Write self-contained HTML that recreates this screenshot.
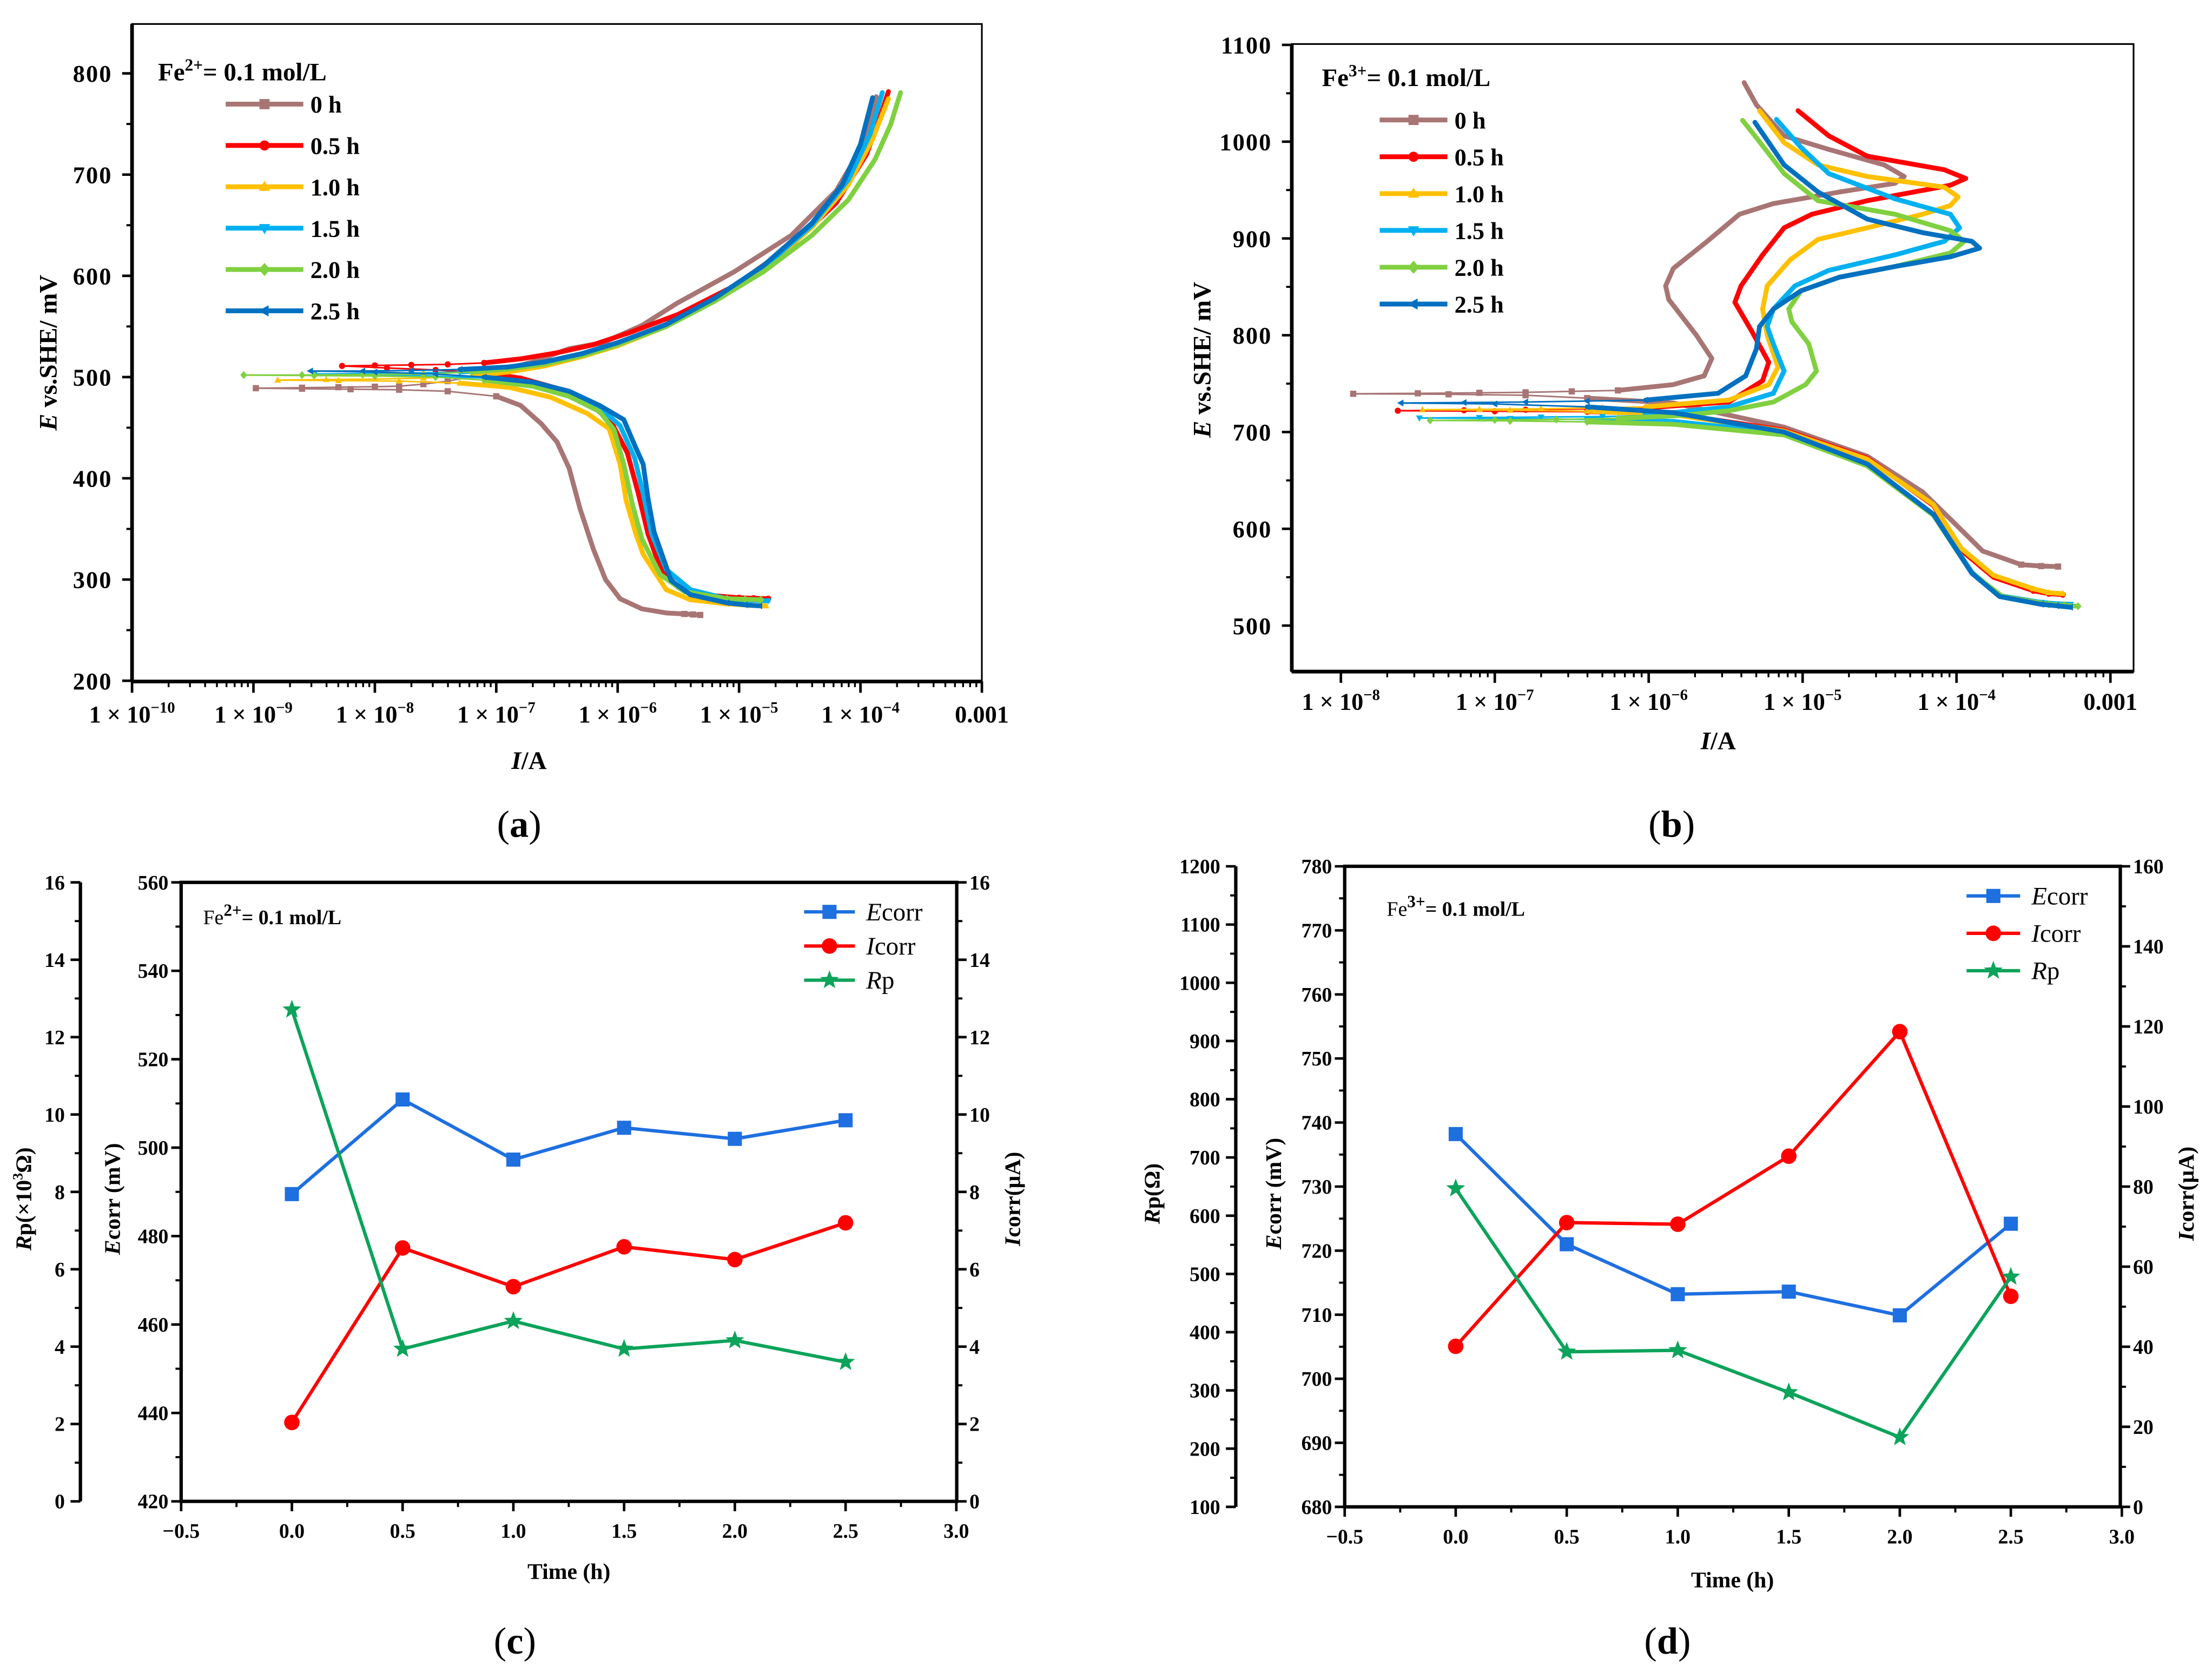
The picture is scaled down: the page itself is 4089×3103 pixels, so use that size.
<!DOCTYPE html>
<html><head><meta charset="utf-8"><style>
html,body{margin:0;padding:0;background:#fff;}
svg{display:block;}
text{font-family:"Liberation Serif",serif;fill:#000;}
</style></head><body>
<svg id="fig" xmlns="http://www.w3.org/2000/svg" width="4089" height="3103" viewBox="0 0 1568 1190" preserveAspectRatio="none" font-family="Liberation Serif, serif">
<rect x="0" y="0" width="1568" height="1190" fill="#fff"/>
</svg>
<script>
// ---------- Panel (a) data: [log10(I/A), E mV] ----------
const aLabels = ["0 h","0.5 h","1.0 h","1.5 h","2.0 h","2.5 h"];
const aAnod0 = [[-8.98,489],[-8.6,489.5],[-8.3,490],[-8.0,490.5],[-7.8,491],[-7.6,493],[-7.4,496],[-7.0,505],[-6.7,515],[-6.4,528],[-6.12,534],[-5.8,551],[-5.51,573],[-5.04,604],[-4.57,640],[-4.2,684],[-3.96,733],[-3.87,777]];
const aCath0 = [[-8.98,489],[-8.6,488.5],[-8.2,488],[-7.8,487.5],[-7.4,486],[-7.0,481],[-6.8,472],[-6.63,454],[-6.5,436],[-6.4,410],[-6.31,370],[-6.2,330],[-6.1,300],[-5.98,281],[-5.8,271],[-5.6,267],[-5.45,266],[-5.38,265.5],[-5.32,265]];
const aAnod1 = [[-8.27,511],[-8.0,511.5],[-7.7,512],[-7.4,512.5],[-7.1,514],[-6.8,518],[-6.5,524],[-6.2,532],[-5.9,544],[-5.5,562],[-5.04,590],[-4.57,630],[-4.2,672],[-3.95,720],[-3.83,760],[-3.77,782]];
const aCath1 = [[-8.27,511],[-7.9,509],[-7.5,507],[-7.1,504],[-6.8,499],[-6.5,489],[-6.25,476],[-6.05,455],[-5.92,425],[-5.83,385],[-5.75,345],[-5.65,312],[-5.5,292],[-5.3,285],[-5.0,282],[-4.88,281.5],[-4.76,281]];
const aAnod2 = [[-8.8,497],[-8.4,497.5],[-8.0,498],[-7.6,499],[-7.2,501],[-6.9,505],[-6.6,511],[-6.3,520],[-6.0,531],[-5.6,550],[-5.2,576],[-4.8,607],[-4.4,648],[-4.1,690],[-3.9,735],[-3.77,775]];
const aCath2 = [[-8.8,497],[-8.3,496.5],[-7.8,496],[-7.3,494],[-6.9,490],[-6.55,480],[-6.25,464],[-6.07,449],[-5.98,414],[-5.93,378],[-5.85,345],[-5.79,325],[-5.6,290],[-5.4,280],[-5.1,276],[-4.9,274.5],[-4.78,274]];
const aAnod3 = [[-8.5,503],[-8.1,503.5],[-7.7,504],[-7.3,505],[-6.9,508],[-6.6,513],[-6.3,521],[-6.0,532],[-5.6,551],[-5.2,577],[-4.8,608],[-4.4,650],[-4.1,695],[-3.92,740],[-3.82,781]];
const aCath3 = [[-8.5,503],[-8.0,502.5],[-7.5,501],[-7.1,499],[-6.7,494],[-6.4,484],[-6.15,470],[-5.98,452],[-5.86,420],[-5.79,385],[-5.72,345],[-5.6,310],[-5.4,290],[-5.1,281],[-4.9,279.5],[-4.76,279]];
const aAnod4 = [[-9.08,502],[-8.6,502],[-8.1,502.5],[-7.6,503],[-7.2,505],[-6.9,508],[-6.6,513],[-6.3,521],[-6.0,532],[-5.6,550],[-5.2,575],[-4.8,604],[-4.4,640],[-4.1,675],[-3.88,715],[-3.75,750],[-3.67,781]];
const aCath4 = [[-9.08,502],[-8.5,501.5],[-8.0,501],[-7.5,500],[-7.1,497],[-6.7,491],[-6.4,481],[-6.15,466],[-6.03,448],[-5.95,414],[-5.88,375],[-5.8,340],[-5.65,305],[-5.45,288],[-5.1,281],[-4.95,280.5],[-4.82,280]];
const aAnod5 = [[-8.53,506],[-8.1,506],[-7.7,506.5],[-7.3,507.5],[-6.9,510],[-6.6,515],[-6.3,523],[-6.0,534],[-5.6,552],[-5.2,578],[-4.8,610],[-4.4,652],[-4.15,690],[-4.0,730],[-3.9,776]];
const aCath5 = [[-8.53,506],[-8.0,505],[-7.5,503],[-7.1,500],[-6.7,495],[-6.4,486],[-6.15,472],[-5.95,458],[-5.85,430],[-5.79,414],[-5.75,380],[-5.7,347],[-5.56,299],[-5.4,285],[-5.1,277],[-4.95,275],[-4.83,274]];
const aYTicks = [200,300,400,500,600,700,800];
const aXTicks = [-10,-9,-8,-7,-6,-5,-4,-3];

// ---------- Panel (b) data ----------
const bAnod0 = [[-7.92,739.5],[-7.5,740],[-7.1,740.5],[-6.8,741],[-6.5,742],[-6.2,743],[-5.84,749],[-5.64,758],[-5.59,776],[-5.69,800],[-5.87,837],[-5.89,851],[-5.84,869],[-5.62,897],[-5.41,925],[-5.19,936],[-4.76,948],[-4.4,957],[-4.34,964],[-4.47,976],[-4.83,992],[-5.12,1006],[-5.3,1038],[-5.38,1061]];
const bCath0 = [[-7.92,739.5],[-7.3,739],[-6.8,738],[-6.4,735],[-5.84,730],[-5.12,705],[-4.58,675],[-4.22,638],[-4.04,610],[-3.83,577],[-3.58,563],[-3.45,561.5],[-3.34,561]];
const bAnod1 = [[-7.63,722],[-7.2,722.5],[-6.8,723],[-6.4,724],[-6.02,725],[-5.48,731],[-5.26,753],[-5.22,772],[-5.33,804],[-5.44,834],[-5.4,851],[-5.26,883],[-5.12,911],[-4.94,925],[-4.58,939],[-4.04,955],[-3.94,962],[-4.08,971],[-4.58,985],[-4.83,1006],[-5.03,1032]];
const bCath1 = [[-7.63,722],[-7.0,721.5],[-6.4,721],[-5.84,719],[-5.12,702],[-4.58,673],[-4.15,624],[-3.97,578],[-3.76,550],[-3.5,536],[-3.4,533],[-3.31,532]];
const bAnod2 = [[-7.47,723],[-7.1,723.5],[-6.7,724],[-6.3,725],[-6.02,726],[-5.48,733],[-5.22,749],[-5.16,767],[-5.23,800],[-5.26,827],[-5.23,851],[-5.08,878],[-4.9,899],[-4.58,911],[-4.22,925],[-4.04,934],[-3.99,943],[-4.08,953],[-4.58,964],[-4.9,976],[-5.12,999],[-5.28,1032]];
const bCath2 = [[-7.47,723],[-6.9,722.5],[-6.4,721.5],[-5.84,718],[-5.12,701],[-4.58,672],[-4.15,625],[-3.97,580],[-3.76,552],[-3.5,538],[-3.4,534],[-3.31,533]];
const bAnod3 = [[-7.49,714.5],[-7.1,715],[-6.7,715.5],[-6.3,716],[-6.02,717],[-5.48,726],[-5.19,740],[-5.12,763],[-5.19,791],[-5.23,809],[-5.19,827],[-5.05,851],[-4.83,867],[-4.4,883],[-4.08,897],[-3.98,911],[-4.04,925],[-4.4,941],[-4.83,967],[-5.01,994],[-5.17,1023]];
const bCath3 = [[-7.49,714.5],[-6.9,714],[-6.4,713],[-5.84,711],[-5.12,699],[-4.58,666],[-4.15,615],[-3.9,555],[-3.72,531],[-3.45,524],[-3.35,522.5],[-3.26,522]];
const bAnod4 = [[-7.42,712],[-7.0,712.5],[-6.6,713],[-6.2,714],[-5.8,717],[-5.48,722],[-5.19,731],[-4.98,749],[-4.91,763],[-4.96,791],[-5.07,814],[-5.09,827],[-5.01,846],[-4.76,860],[-4.4,871],[-4.04,885],[-3.95,897],[-4.04,908],[-4.4,925],[-4.9,939],[-5.12,967],[-5.3,1004],[-5.39,1022]];
const bCath4 = [[-7.42,712],[-6.9,711.5],[-6.4,710.5],[-5.84,708],[-5.12,697],[-4.58,665],[-4.15,614],[-3.9,554],[-3.7,530],[-3.4,522],[-3.3,521],[-3.21,520]];
const bAnod5 = [[-7.61,730],[-7.2,730.5],[-6.8,731],[-6.4,732],[-6.02,733],[-5.55,740],[-5.37,758],[-5.3,786],[-5.28,809],[-5.19,827],[-5.01,846],[-4.76,860],[-4.4,871],[-4.04,881],[-3.85,890],[-3.9,897],[-4.22,906],[-4.58,920],[-4.9,948],[-5.12,976],[-5.31,1020]];
const bCath5 = [[-7.61,730],[-7.0,729],[-6.4,726],[-5.84,720],[-5.12,700],[-4.58,667],[-4.15,615],[-3.9,554],[-3.72,530],[-3.45,522],[-3.35,520.5],[-3.26,519]];
const bYTicks = [500,600,700,800,900,1000,1100];
const bXTicks = [-8,-7,-6,-5,-4,-3];

// ---------- Panel (c) data ----------
const cTime = [0,0.5,1.0,1.5,2.0,2.5];
const cEcorr = [489.5,510.9,497.3,504.5,502,506.2];
const cIcorr = [2.04,6.55,5.55,6.58,6.25,7.2];
const cRp = [12.71,3.94,4.66,3.94,4.16,3.6];
const cETicks = [420,440,460,480,500,520,540,560];
const cITicks = [0,2,4,6,8,10,12,14,16];
const cXTicks = [-0.5,0,0.5,1,1.5,2,2.5,3];

// ---------- Panel (d) data ----------
const dTime = [0,0.5,1.0,1.5,2.0,2.5];
const dEcorr = [738.2,721,713.2,713.6,709.9,724.2];
const dIcorr = [40.1,71,70.6,87.6,118.7,52.6];
const dRp = [646.7,366.3,368.8,296.6,219.5,495];
const dETicks = [680,690,700,710,720,730,740,750,760,770,780];
const dITicks = [0,20,40,60,80,100,120,140,160];
const dRTicks = [100,200,300,400,500,600,700,800,900,1000,1100,1200];
const dXTicks = [-0.5,0,0.5,1,1.5,2,2.5,3];

const NS = "http://www.w3.org/2000/svg";
const svg = document.getElementById('fig');
function mk(tag, attrs, parent){
  const e = document.createElementNS(NS, tag);
  for (const k in attrs) e.setAttribute(k, attrs[k]);
  (parent||svg).appendChild(e);
  return e;
}
function txt(s, x, y, size, opts, parent){
  const o = Object.assign({x:x, y:y, 'font-size':size, 'font-weight':'bold'}, opts||{});
  const t = mk('text', o, parent);
  t.textContent = s;
  return t;
}
function grp(){ return mk('g', {}); }

const pal = ["#A87575","#FF0000","#FFC000","#00B0F0","#80D040","#0070C0"];
const markerShapes = ["square","circle","tri","tridown","diamond","tleft"];
function marker(g, shape, x, y, s, color){
  let e;
  if (shape==="square") e = mk('rect',{x:x-s,y:y-s,width:2*s,height:2*s,fill:color},g);
  else if (shape==="circle") e = mk('circle',{cx:x,cy:y,r:s,fill:color},g);
  else if (shape==="tri") e = mk('polygon',{points:`${x},${y-s*1.2} ${x-s*1.1},${y+s*0.8} ${x+s*1.1},${y+s*0.8}`,fill:color},g);
  else if (shape==="tridown") e = mk('polygon',{points:`${x},${y+s*1.2} ${x-s*1.1},${y-s*0.8} ${x+s*1.1},${y-s*0.8}`,fill:color},g);
  else if (shape==="diamond") e = mk('polygon',{points:`${x},${y-s*1.3} ${x+s*1.1},${y} ${x},${y+s*1.3} ${x-s*1.1},${y}`,fill:color},g);
  else if (shape==="tleft") e = mk('polygon',{points:`${x-s*1.2},${y} ${x+s*0.8},${y-s*1.1} ${x+s*0.8},${y+s*1.1}`,fill:color},g);
  else if (shape==="star"){
    let p=[];
    for(let i=0;i<10;i++){const r=i%2?s*0.42:s;const a=-Math.PI/2+i*Math.PI/5;p.push((x+r*Math.cos(a)).toFixed(2)+','+(y+r*Math.sin(a)).toFixed(2));}
    e = mk('polygon',{points:p.join(' '),fill:color},g);
  }
  return e;
}

function logPanel(cfg){
  const g = grp();
  
  
  const X = cfg.X, Y = cfg.Y;
  cfg.series.forEach((s, si) => {
    const sg = mk('g', {}, g);
    
    
    const pts = s.anod.slice().reverse().concat(s.cath.slice(1));
    let thick = [], thin = [];
    for (let i=0;i<pts.length-1;i++){
      const p=pts[i], q=pts[i+1];
      const isThin = p[0] < cfg.thr && q[0] < cfg.thr;
      const ln = mk('line',{x1:X(p[0]),y1:Y(p[1]),x2:X(q[0]),y2:Y(q[1]),stroke:pal[si],'stroke-width':isThin?1.1:3.4,'stroke-linecap':'round'},sg);
    }
    pts.forEach((p, i) => {
      if (p[0] < cfg.thr || i >= pts.length-3) {
        const m = marker(sg, markerShapes[si], X(p[0]), Y(p[1]), 2.2, pal[si]);
        
        
      }
    });
  });
  const fr = mk('rect',{x:cfg.L,y:cfg.T,width:cfg.R-cfg.L,height:cfg.B-cfg.T,fill:'none',stroke:'#000','stroke-width':1.2},g);
  
  
  const xa = mk('line',{x1:cfg.L,y1:cfg.B,x2:cfg.R,y2:cfg.B,stroke:'#000','stroke-width':2.6},g);
  
  
  const ya = mk('line',{x1:cfg.L,y1:cfg.T,x2:cfg.L,y2:cfg.B,stroke:'#000','stroke-width':2.6},g);
  
  
  cfg.yTicks.forEach((v,i) => {
    const y = Y(v);
    mk('line',{x1:cfg.L-7,y1:y,x2:cfg.L,y2:y,stroke:'#000','stroke-width':1.8},g);
    if (i < cfg.yTicks.length-1) { const ym = Y(v+50); mk('line',{x1:cfg.L-4,y1:ym,x2:cfg.L,y2:ym,stroke:'#000','stroke-width':1.5},g); }
    const t = txt(String(v), cfg.L-14, y+6, 17, {'text-anchor':'end','letter-spacing':'0.8'}, g);
    
    
  });
  cfg.xTicks.forEach((d,i) => {
    const x = X(d);
    mk('line',{x1:x,y1:cfg.B,x2:x,y2:cfg.B+8,stroke:'#000','stroke-width':1.8},g);
    if (i < cfg.xTicks.length-1) for (let k=2;k<=9;k++){ const xm = X(d+Math.log10(k)); mk('line',{x1:xm,y1:cfg.B,x2:xm,y2:cfg.B+4,stroke:'#000','stroke-width':1.3},g); }
    const t = mk('text',{x:x,y:cfg.xLabY,'font-size':17,'font-weight':'bold','text-anchor':'middle'},g);
    
    
    if (d === -3) { t.textContent = '0.001'; }
    else {
      t.textContent = '1 × 10';
      const sp = mk('tspan',{dy:-7,'font-size':11},t);
      sp.textContent = '−' + (-d);
    }
  });
  const xt = mk('text',{x:cfg.xTitle[0],y:cfg.xTitle[1],'font-size':18,'font-weight':'bold','text-anchor':'middle'},g);
  
  
  const xi = mk('tspan',{'font-style':'italic'},xt); xi.textContent='I';
  const xr = mk('tspan',{},xt); xr.textContent='/A';
  const yt = mk('text',{x:0,y:0,'font-size':18,'font-weight':'bold','text-anchor':'middle',transform:`translate(${cfg.yTitle[0]},${cfg.yTitle[1]}) rotate(-90)`},g);
  
  
  const yi = mk('tspan',{'font-style':'italic'},yt); yi.textContent='E';
  const yr = mk('tspan',{},yt); yr.textContent=' vs.SHE/ mV';
  const an = mk('text',{x:cfg.ann[0],y:cfg.ann[1],'font-size':18,'font-weight':'bold'},g);
  
  
  const a1 = mk('tspan',{},an); a1.textContent='Fe';
  const a2 = mk('tspan',{dy:-7,'font-size':12},an); a2.textContent=cfg.ion;
  const a3 = mk('tspan',{dy:7},an); a3.textContent='= 0.1 mol/L';
  const lg = mk('g',{},g);
  
  
  aLabels.forEach((lab,i) => {
    const y = cfg.leg[1] + i*cfg.leg[3];
    const le = mk('g',{},lg);
    
    
    mk('line',{x1:cfg.leg[0],y1:y,x2:cfg.leg[0]+cfg.leg[2],y2:y,stroke:pal[i],'stroke-width':3.4},le);
    marker(le, markerShapes[i], cfg.leg[0]+cfg.leg[2]/2, y, 3.6, pal[i]);
    txt(lab, cfg.leg[0]+cfg.leg[2]+5, y+6, 17, {}, le);
  });
  const cap = mk('text',{x:cfg.cap[0],y:cfg.cap[1],'font-size':27,'text-anchor':'middle'},svg);
  
  
  const c1=mk('tspan',{},cap); c1.textContent='(';
  const c2=mk('tspan',{'font-weight':'bold'},cap); c2.textContent=cfg.capL;
  const c3=mk('tspan',{},cap); c3.textContent=')';
}

logPanel({
  name:'panel-a-polarization-fe2', L:93.6, R:696, T:17, B:483,
  X: l => 93.6 + (l+10)*86.06, Y: e => 52 + (800-e)*0.7175,
  thr:-6.9, yTicks:aYTicks, xTicks:aXTicks, xLabY:512,
  xTitle:[375,545], yTitle:[40,250], ann:[112,57], ion:'2+',
  leg:[160,73.8,55,29.3], cap:[368,593], capL:'a',
  series:[{anod:aAnod0,cath:aCath0},{anod:aAnod1,cath:aCath1},{anod:aAnod2,cath:aCath2},{anod:aAnod3,cath:aCath3},{anod:aAnod4,cath:aCath4},{anod:aAnod5,cath:aCath5}]
});
logPanel({
  name:'panel-b-polarization-fe3', L:915.7, R:1512.4, T:31.2, B:476,
  X: l => 950.5 + (l+8)*109.1, Y: e => 31.8 + (1100-e)*0.686,
  thr:-6.0, yTicks:bYTicks, xTicks:bXTicks, xLabY:503,
  xTitle:[1218,531], yTitle:[858,255], ann:[937,61], ion:'3+',
  leg:[978,85,48,26.1], cap:[1185,593], capL:'b',
  series:[{anod:bAnod0,cath:bCath0},{anod:bAnod1,cath:bCath1},{anod:bAnod2,cath:bCath2},{anod:bAnod3,cath:bCath3},{anod:bAnod4,cath:bCath4},{anod:bAnod5,cath:bCath5}]
});

function linPanel(c){
  const g = grp();
  
  
  const fr = mk('rect',{x:c.L,y:c.T,width:c.R-c.L,height:c.B-c.T,fill:'none',stroke:'#000','stroke-width':2.4},g);
  
  
  const ra = mk('line',{x1:c.rpX,y1:c.T,x2:c.rpX,y2:c.B,stroke:'#000','stroke-width':2.4},g);
  
  
  c.xTicks.forEach((v,i)=>{
    const x=c.X(v);
    mk('line',{x1:x,y1:c.B,x2:x,y2:c.B+7,stroke:'#000','stroke-width':1.8},g);
    if(i<c.xTicks.length-1){const xm=c.X(v+0.25);mk('line',{x1:xm,y1:c.B,x2:xm,y2:c.B+4,stroke:'#000','stroke-width':1.5},g);}
    const t=txt((v<0?'−':'')+Math.abs(v).toFixed(1), x, c.xLabY, 14.5, {'text-anchor':'middle'}, g);
    
    
  });
  c.eTicks.forEach((v,i)=>{
    const y=c.E(v);
    mk('line',{x1:c.L-7,y1:y,x2:c.L,y2:y,stroke:'#000','stroke-width':1.8},g);
    if(i<c.eTicks.length-1){const ym=c.E(v+c.eStep/2);mk('line',{x1:c.L-4,y1:ym,x2:c.L,y2:ym,stroke:'#000','stroke-width':1.5},g);}
    const t=txt(String(v), c.L-9, y+5, 14.5, {'text-anchor':'end'}, g);
    
    
  });
  c.iTicks.forEach((v,i)=>{
    const y=c.I(v);
    mk('line',{x1:c.R,y1:y,x2:c.R+7,y2:y,stroke:'#000','stroke-width':1.8},g);
    if(i<c.iTicks.length-1){const ym=c.I(v+c.iStep/2);mk('line',{x1:c.R,y1:ym,x2:c.R+4,y2:ym,stroke:'#000','stroke-width':1.5},g);}
    const t=txt(String(v), c.R+9, y+5, 14.5, {}, g);
    
    
  });
  c.rTicks.forEach((v,i)=>{
    const y=c.P(v);
    mk('line',{x1:c.rpX-7,y1:y,x2:c.rpX,y2:y,stroke:'#000','stroke-width':1.8},g);
    if(i<c.rTicks.length-1){const ym=c.P(v+c.rStep/2);mk('line',{x1:c.rpX-4,y1:ym,x2:c.rpX,y2:ym,stroke:'#000','stroke-width':1.5},g);}
    const t=txt(String(v), c.rpX-11, y+5, 14.5, {'text-anchor':'end'}, g);
    
    
  });
  const ser=[{vals:c.ecorr,f:c.E,col:'#1E6FE0',shape:'square',s:5,name:'series-ecorr'},
             {vals:c.icorr,f:c.I,col:'#FF0000',shape:'circle',s:5.5,name:'series-icorr'},
             {vals:c.rp,f:c.P,col:'#0CA35A',shape:'star',s:7,name:'series-rp'}];
  ser.forEach(s=>{
    const sg=mk('g',{},g);
    
    
    const pts=c.time.map((t,i)=>c.X(t).toFixed(2)+','+s.f(s.vals[i]).toFixed(2)).join(' ');
    mk('polyline',{points:pts,fill:'none',stroke:s.col,'stroke-width':2.4,'stroke-linejoin':'round'},sg);
    c.time.forEach((t,i)=>{
      const m=marker(sg,s.shape,c.X(t),s.f(s.vals[i]),s.s,s.col);
      
      
    });
  });
  const lg=mk('g',{},g);
  
  
  const labs=[['E','corr'],['I','corr'],['R','p']];
  ser.forEach((s,i)=>{
    const y=c.leg[1]+i*c.leg[3];
    const le=mk('g',{},lg);
    
    
    mk('line',{x1:c.leg[0],y1:y,x2:c.leg[0]+c.leg[2],y2:y,stroke:s.col,'stroke-width':2.4},le);
    marker(le,s.shape,c.leg[0]+c.leg[2]/2,y,s.s,s.col);
    const t=mk('text',{x:c.leg[0]+c.leg[2]+8,y:y+6,'font-size':18},le);
    const t1=mk('tspan',{'font-style':'italic'},t); t1.textContent=labs[i][0];
    const t2=mk('tspan',{},t); t2.textContent=labs[i][1];
  });
  const an=mk('text',{x:c.ann[0],y:c.ann[1],'font-size':14.5},g);
  
  
  const a1=mk('tspan',{},an); a1.textContent='Fe';
  const a2=mk('tspan',{dy:-6,'font-size':12,'font-weight':'bold'},an); a2.textContent=c.ion;
  const a3=mk('tspan',{dy:6,'font-weight':'bold'},an); a3.textContent='= 0.1 mol/L';
  const xt=txt('Time (h)', (c.L+c.R)/2, c.xTitleY, 16, {'text-anchor':'middle'}, g);
  
  
  const mkRot=(x,y,parts,name)=>{
    const t=mk('text',{x:0,y:0,'font-size':16,'font-weight':'bold','text-anchor':'middle',transform:`translate(${x},${y}) rotate(-90)`},g);
    
    
    parts.forEach(p=>{const sp=mk('tspan',p[1],t); sp.textContent=p[0];});
  };
  mkRot(c.eTitleX,(c.T+c.B)/2+5,[['E',{'font-style':'italic'}],['corr (mV)',{}]],'ecorr-axis-title');
  mkRot(c.iTitleX,(c.T+c.B)/2+5,[['I',{'font-style':'italic'}],['corr(μA)',{}]],'icorr-axis-title');
  mkRot(c.rTitleX,(c.T+c.B)/2+5,c.rTitle,'rp-axis-title');
  const cap=mk('text',{x:c.cap[0],y:c.cap[1],'font-size':27,'text-anchor':'middle'},svg);
  
  
  const c1=mk('tspan',{},cap); c1.textContent='(';
  const c2=mk('tspan',{'font-weight':'bold'},cap); c2.textContent=c.capL;
  const c3=mk('tspan',{},cap); c3.textContent=')';
}

linPanel({
  name:'panel-c-fe2-parameters', L:128.4, R:678.2, T:625.4, B:1064.1, rpX:57,
  X:t=>128.4+(t+0.5)*157, E:e=>1064.1-(e-420)/140*438.7, I:i=>1064.1-i/16*438.7, P:r=>1064.1-r/16*438.7,
  time:cTime, ecorr:cEcorr, icorr:cIcorr, rp:cRp,
  xTicks:cXTicks, eTicks:cETicks, eStep:20, iTicks:cITicks, iStep:2, rTicks:cITicks, rStep:2,
  xLabY:1090, xTitleY:1119, leg:[570,646.3,36,24.2], ann:[144,655], ion:'2+',
  eTitleX:85, iTitleX:723, rTitleX:22, rTitle:[['R',{'font-style':'italic'}],['p(×10',{}],['3',{'font-size':10,dy:-6}],['Ω)',{dy:6}]],
  cap:[365,1172], capL:'c'
});
linPanel({
  name:'panel-d-fe3-parameters', L:953.2, R:1503, T:614, B:1068, rpX:876,
  X:t=>953.2+(t+0.5)*157.4, E:e=>1068-(e-680)/100*454, I:i=>1068-i/160*454, P:r=>1068-(r-100)/1100*454,
  time:dTime, ecorr:dEcorr, icorr:dIcorr, rp:dRp,
  xTicks:dXTicks, eTicks:dETicks, eStep:10, iTicks:dITicks, iStep:20, rTicks:dRTicks, rStep:100,
  xLabY:1094, xTitleY:1125, leg:[1394,635,38,26.5], ann:[983,649], ion:'3+',
  eTitleX:908, iTitleX:1555, rTitleX:822, rTitle:[['R',{'font-style':'italic'}],['p(Ω)',{}]],
  cap:[1182,1172], capL:'d'
});
</script>
</body></html>
